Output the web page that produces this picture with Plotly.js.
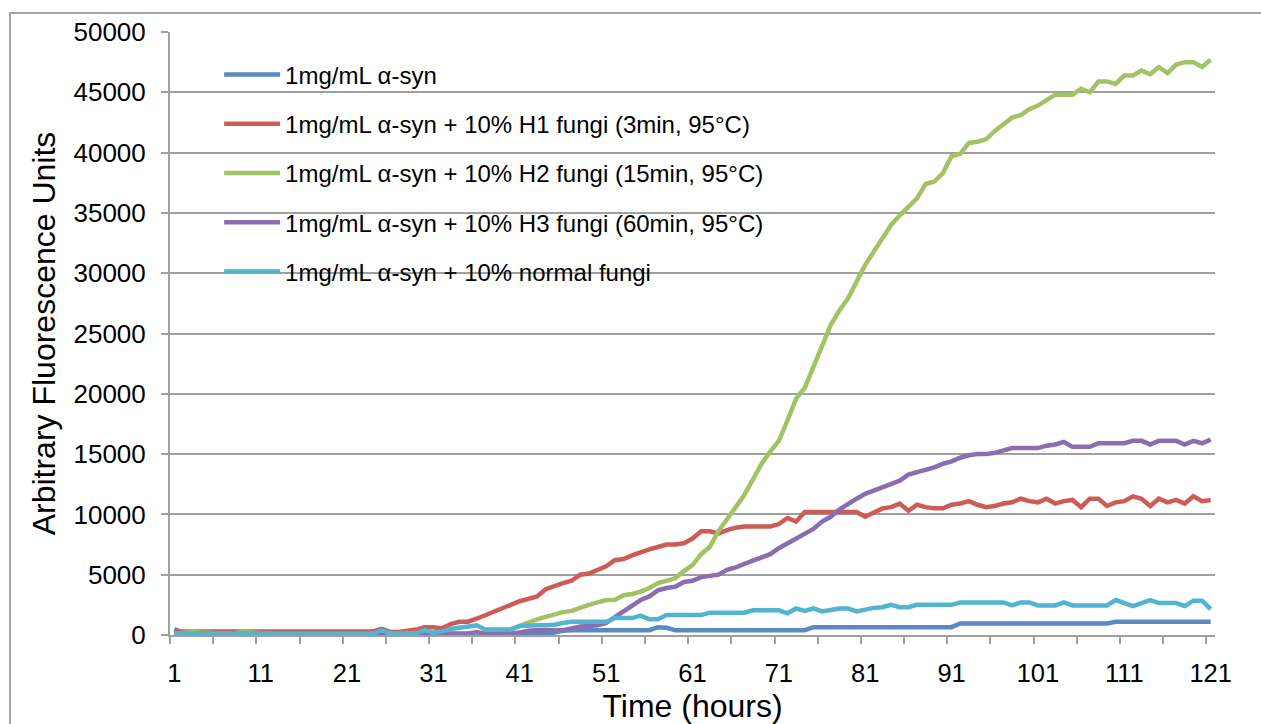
<!DOCTYPE html>
<html>
<head>
<meta charset="utf-8">
<script src="https://cdn.plot.ly/plotly-3.0.1.min.js"></script>
<style>
  html, body { margin: 0; padding: 0; background: #ffffff; overflow: hidden; }
  #frame { position: absolute; left: 9px; top: 12px; width: 1260px; height: 730px;
           border: 2px solid #a6a6a6; box-sizing: border-box; }
  #chart { position: absolute; left: 0; top: 0; width: 1261px; height: 724px; }
</style>
</head>
<body>
<div id="frame"></div>
<div id="chart"></div>
<script>
// ---- categories (hours) ----
var hours = [];
for (var h = 1; h <= 121; h++) hours.push(h);
var hourTickLabels = ["1","11","21","31","41","51","61","71","81","91","101","111","121"];
var hourTickValues = [1,11,21,31,41,51,61,71,81,91,101,111,121];

// ---- series names ----
var seriesNames = [
  "1mg/mL α-syn",
  "1mg/mL α-syn + 10% H1 fungi (3min, 95°C)",
  "1mg/mL α-syn + 10% H2 fungi (15min, 95°C)",
  "1mg/mL α-syn + 10% H3 fungi (60min, 95°C)",
  "1mg/mL α-syn + 10% normal fungi"
];

// ---- series values ----
var synOnly = [500,200,
  100,100,100,100,100,100,100,100,100,100,100,100,100,100,100,100,100,100,100,100,100,
  100,100,100,100,100,100,100,100,100,100,100,100,100,100,100,100,100,100,100,100,100,
  200,350,
  400,400,400,400,400,400,400,400,400,400,
  650,600,
  400,400,400,400,400,400,400,400,400,400,400,400,400,400,400,400,
  650,650,650,650,650,650,650,650,650,650,650,650,650,650,650,650,650,
  950,950,950,950,950,950,950,950,950,950,950,950,950,950,950,950,950,950,
  1100,1100,1100,1100,1100,1100,1100,1100,1100,1100,1100,1100];

var h1Fungi = [300,300,300,300,300,300,300,300,300,300,300,300,300,300,300,300,300,300,300,300,300,300,300,300,
  500,250,250,350,450,650,650,550,900,1100,1100,1350,1650,2000,2300,2550,2800,3000,3200,3800,4100,4300,4500,5000,5100,5400,
  5700,6200,6300,6600,6900,7100,7300,7500,7500,7600,8000,8600,8600,8400,8700,8900,9000,9000,9000,9000,
  9200,9700,9400,10200,10200,10200,10200,10200,10200,10200,9800,10100,10500,10600,10900,10300,10800,10600,10500,10500,
  10800,10900,11100,10800,10600,10700,10900,11000,11300,11100,11000,11300,10900,11100,11200,10600,11300,11300,10700,11000,
  11100,11500,11300,10700,11300,11000,11200,10900,11500,11100,11200];

var h2Fungi = [100,150,250,200,150,150,150,150,250,200,
  100,100,100,100,100,100,100,100,100,100,100,100,100,100,100,100,100,100,100,100,100,100,100,100,100,100,100,100,100,
  500,800,1100,1300,1500,1700,1900,2000,2300,2500,2700,2900,2900,3300,3400,3600,3900,4300,4500,4700,5300,
  5800,6700,7300,8600,9600,10500,11600,12900,14200,15200,16100,17800,19600,20500,22300,24100,25700,26900,27900,29300,
  30700,31800,32900,34000,34800,35500,36200,37400,37600,38300,39700,39900,40800,40900,41100,41800,42300,42900,43100,43600,
  43900,44300,44800,44800,44800,45300,45000,45900,45900,45700,46400,46400,46800,46500,47100,46600,47300,47500,47500,47100,47700];

var h3Fungi = [100,100,100,100,100,100,100,100,100,100,100,100,100,100,100,100,100,100,100,100,100,100,100,100,100,100,100,100,100,100,100,100,
  50,50,100,250,100,100,100,100,200,350,400,400,400,400,
  550,700,750,800,1000,1500,2000,2500,2900,3200,3700,3900,4000,4400,4500,4800,4900,5000,5400,5600,
  5900,6200,6500,6700,7200,7600,8000,8300,8800,9400,9800,10400,10900,11300,11700,12000,12300,12500,12800,13300,
  13500,13700,13900,14200,14400,14700,14900,15000,15000,15100,15300,15500,15500,15500,15500,15700,15800,16000,15600,15600,
  15600,15900,15900,15900,15900,16100,16100,15800,16100,16100,16100,15800,16100,15900,16200];

var normalFungi = [150,
  100,100,100,100,100,100,100,100,100,100,100,100,100,100,100,100,100,100,100,100,100,100,100,
  400,150,150,150,150,400,200,300,500,600,700,800,450,450,450,450,750,800,800,800,850,1000,
  1100,1100,1100,1100,1100,1400,1400,1400,1600,1300,1300,1650,1650,1650,1650,1650,1850,1850,1850,1850,
  1850,2050,2050,2050,2050,1800,2200,2000,2200,1950,2100,2200,2200,1950,2100,2250,2300,2500,2300,2300,
  2500,2500,2500,2500,2500,2700,2700,2700,2700,2700,2700,2450,2700,2700,2450,2450,2450,2700,2450,2450,
  2450,2450,2450,2900,2600,2400,2650,2900,2650,2650,2650,2400,2850,2850,2150];

var seriesValues = [synOnly, h1Fungi, h2Fungi, h3Fungi, normalFungi];
var seriesColors = ["#5a8ac6", "#cd5c57", "#a3c264", "#8a6fb0", "#52b4cf"];

var traces = seriesValues.map(function (vals, k) {
  return {
    x: hours, y: vals, type: "scatter", mode: "lines",
    name: seriesNames[k], legendgroup: "g" + k,
    line: { color: seriesColors[k], width: 4.5 },
    hoverinfo: "x+y+name"
  };
});

var minorTicks = [];
for (var t = 0.5; t <= 121; t += 5) minorTicks.push(t);

var gridGray = "#a0a0a0";
var font = "Liberation Sans, Arial, sans-serif";

var layout = {
  width: 1261, height: 724,
  margin: { l: 170, r: 46, t: 32, b: 89, autoexpand: false },
  paper_bgcolor: "rgba(0,0,0,0)", plot_bgcolor: "rgba(0,0,0,0)",
  font: { family: font, color: "#000000" },
  showlegend: true,
  legend: {
    x: 0.047, y: 0.966, xanchor: "left", yanchor: "top",
    bgcolor: "rgba(0,0,0,0)", borderwidth: 0,
    font: { family: font, size: 24, color: "#000000" },
    traceorder: "grouped", tracegroupgap: 15, itemwidth: 56
  },
  xaxis: {
    range: [0.5, 121.5], autorange: false,
    tickmode: "array", tickvals: hourTickValues, ticktext: hourTickLabels,
    ticks: "", ticklabelstandoff: 14,
    tickfont: { family: font, size: 25.5, color: "#000000" },
    showline: true, linecolor: gridGray, linewidth: 2,
    showgrid: false, zeroline: false,
    minor: { tickmode: "array", tickvals: minorTicks, ticks: "outside", ticklen: 7, tickwidth: 2, tickcolor: gridGray, showgrid: false },
    title: { text: "Time (hours)", font: { family: font, size: 32, color: "#000000" }, standoff: 19 },
    fixedrange: true
  },
  yaxis: {
    range: [0, 50000], autorange: false,
    tickmode: "linear", tick0: 0, dtick: 5000, tickformat: "d",
    ticks: "outside", ticklen: 7, tickwidth: 2, tickcolor: gridGray,
    ticklabelstandoff: 10,
    tickfont: { family: font, size: 26, color: "#000000" },
    showline: true, linecolor: gridGray, linewidth: 2,
    showgrid: true, gridcolor: gridGray, gridwidth: 2,
    zeroline: false,
    title: { text: "Arbitrary Fluorescence Units", font: { family: font, size: 32, color: "#000000" }, standoff: 8 },
    fixedrange: true
  }
};

Plotly.newPlot("chart", traces, layout, { displayModeBar: false, staticPlot: false });
</script>
</body>
</html>
